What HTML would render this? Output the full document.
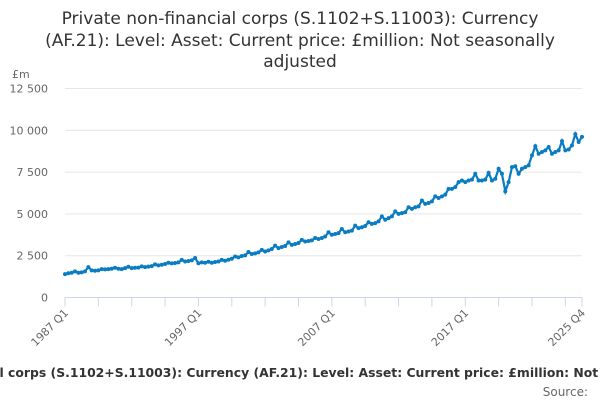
<!DOCTYPE html>
<html><head><meta charset="utf-8"><style>
body{margin:0;width:600px;height:400px;overflow:hidden;background:#fff;font-family:"Liberation Sans","DejaVu Sans",sans-serif}
</style></head><body>
<svg width="600" height="400" style="font-family:'DejaVu Sans','Liberation Sans',sans-serif">
<text x="300" y="24" font-size="17" text-anchor="middle" fill="#333">Private non-financial corps (S.1102+S.11003): Currency</text>
<text x="300" y="46" font-size="17" text-anchor="middle" fill="#333">(AF.21): Level: Asset: Current price: £million: Not seasonally</text>
<text x="300" y="67" font-size="17" text-anchor="middle" fill="#333">adjusted</text>
<text x="12" y="78" font-size="11" fill="#666">£m</text>
<g id="grid"></g><g id="xaxis"></g>
<path id="line" fill="none" stroke="#0a7cc1" stroke-width="2.2"/>
<g id="pts"></g>
<text x="300" y="377" font-size="12.4" font-weight="bold" text-anchor="middle" fill="#333">Private non-financial corps (S.1102+S.11003): Currency (AF.21): Level: Asset: Current price: £million: Not seasonally adjusted</text>
<text x="588" y="396" font-size="12" text-anchor="end" fill="#666">Source:</text>
</svg>
<script>
const startYear = 1987;
const values = [
1400,1450,1480,1560, 1480,1500,1560,1820, 1620,1600,1620,1700, 1680,1700,1720,1780,
1720,1700,1760,1840, 1760,1780,1790,1860, 1820,1850,1880,1980, 1920,1960,2000,2080,
2040,2060,2100,2250, 2150,2180,2220,2360, 2050,2100,2080,2140, 2080,2120,2150,2250,
2200,2260,2320,2450, 2400,2480,2520,2720, 2600,2640,2700,2850, 2750,2820,2900,3100,
2950,3020,3080,3300, 3150,3200,3260,3450, 3350,3380,3420,3560, 3500,3560,3650,3900,
3750,3800,3850,4100, 3900,3950,4000,4300, 4150,4200,4280,4500, 4400,4450,4550,4850,
4650,4750,4850,5150, 5000,5050,5100,5400, 5300,5400,5450,5800, 5600,5650,5750,6050,
5950,6050,6150,6500, 6500,6600,6900,7000, 6900,7000,7050,7400, 7000,7000,7050,7450,
7000,7100,7700,7400, 6350,6900,7800,7850, 7400,7700,7800,7900, 8500,9050,8600,8700,
8800,9000,8600,8700, 8800,9350,8800,8850, 9100,9770,9300,9610];
const yTicks = [0,2500,5000,7500,10000,12500];
const yTickLabels = ["0","2 500","5 000","7 500","10 000","12 500"];
const xLabelIdx = [0,40,80,120,155];
const x0=65,x1=582,y0=297.5,y1=88.5;
const X=i=>x0+i*(x1-x0)/(values.length-1);
const Y=v=>y0-(v/12500)*(y0-y1);
const NS="http://www.w3.org/2000/svg";
const grid=document.getElementById('grid'),xa=document.getElementById('xaxis'),pts=document.getElementById('pts');
function mk(tag,attrs,parent,txt){const e=document.createElementNS(NS,tag);for(const k in attrs)e.setAttribute(k,attrs[k]);if(txt!==undefined)e.textContent=txt;parent.appendChild(e);return e;}
yTicks.forEach((t,k)=>{
 if(t>0){const l=mk('line',{x1:x0,x2:x1,y1:Y(t),y2:Y(t),stroke:'#e6e6e6'},grid);
 
 }
 const tx=mk('text',{x:48,y:Y(t)+4,'font-size':11,'text-anchor':'end',fill:'#666'},grid,yTickLabels[k]);
 
 
});
const ax=mk('line',{x1:x0,x2:x1,y1:y0,y2:y0,stroke:'#ccd6eb'},xa);


for(let i=0;i<values.length;i+=10){const t=mk('line',{x1:X(i),x2:X(i),y1:y0,y2:y0+9,stroke:'#ccd6eb'},xa);
 
 }
const lt=mk('line',{x1:X(155),x2:X(155),y1:y0,y2:y0+9,stroke:'#ccd6eb'},xa);


xLabelIdx.forEach(i=>{
 const lab=(startYear+Math.floor(i/4))+' Q'+(i%4+1);
 const tx=mk('text',{x:X(i)+4,y:y0+16,'font-size':11,'text-anchor':'end',fill:'#666',transform:`rotate(-45 ${X(i)+4} ${y0+16})`},xa,lab);
 
 
});
document.getElementById('line').setAttribute('d',values.map((v,i)=>(i?'L':'M')+X(i).toFixed(1)+' '+Y(v).toFixed(1)).join(''));
values.forEach((v,i)=>{const c=mk('circle',{cx:X(i),cy:Y(v),r:2,fill:'#0a7cc1'},pts);
 
 });
</script>
</body></html>
